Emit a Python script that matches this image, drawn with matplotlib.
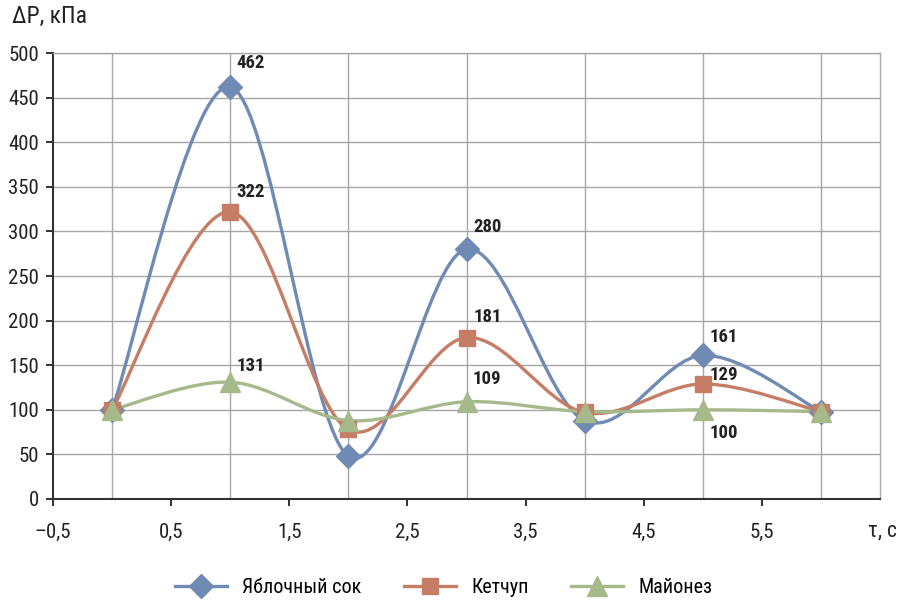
import numpy as np
import matplotlib.pyplot as plt
from matplotlib.path import Path
from matplotlib.patches import PathPatch
from matplotlib import font_manager

# font: condensed look if available
names = set(f.name for f in font_manager.fontManager.ttflist)
fam = 'Liberation Sans'
for f in ['Liberation Sans Narrow', 'Roboto Condensed', 'Open Sans Condensed']:
    if f in names:
        fam = f
        break
plt.rcParams['font.family'] = [fam, 'DejaVu Sans']

tau = [0, 1, 2, 3, 4, 5, 6]
juice = [100, 462, 48, 280, 88, 161, 98]
ketchup = [100, 322, 78, 181, 97, 129, 98]
mayo = [100, 131, 88, 109, 98, 100, 98]
# index -> (text, vertical offset in points)
labels_juice = {1: ('462', 17), 3: ('280', 16), 5: ('161', 13)}
labels_ketchup = {1: ('322', 14), 3: ('181', 15), 5: ('129', 6.5)}
labels_mayo = {1: ('131', 11.5), 3: ('109', 16.5), 5: ('100', -17)}

xticks = [-0.5, 0.5, 1.5, 2.5, 3.5, 4.5, 5.5]
xtick_labels = ['–0,5', '0,5', '1,5', '2,5', '3,5', '4,5', '5,5']

c_blue = '#6f8ab3'
c_orange = '#c67d66'
c_green = '#a6b98a'


def smooth_path(x, y):
    # bezier curve through the points (like excel's smoothed line)
    x = np.asarray(x, float)
    y = np.asarray(y, float)
    n = len(x)
    verts = [(x[0], y[0])]
    codes = [Path.MOVETO]
    for i in range(n - 1):
        i0 = max(i - 1, 0)
        i3 = min(i + 2, n - 1)
        c1 = (x[i] + (x[i + 1] - x[i0]) / 6, y[i] + (y[i + 1] - y[i0]) / 6)
        c2 = (x[i + 1] - (x[i3] - x[i]) / 6, y[i + 1] - (y[i3] - y[i]) / 6)
        verts += [c1, c2, (x[i + 1], y[i + 1])]
        codes += [Path.CURVE4] * 3
    return Path(verts, codes)


fig = plt.figure(figsize=(8.98, 6.03), dpi=100)
ax = fig.add_axes([0.059, 0.1725, 0.921, 0.7395])

series = [
    (juice, c_blue, 'D', 12, 'Яблочный сок', labels_juice),
    (ketchup, c_orange, 's', 11, 'Кетчуп', labels_ketchup),
    (mayo, c_green, '^', 14, 'Майонез', labels_mayo),
]
for vals, col, mk, ms, name, labs in series:
    ax.add_patch(PathPatch(smooth_path(tau, vals), facecolor='none',
                           edgecolor=col, lw=2.4, zorder=3))
    ax.plot(tau, vals, ls='none', marker=mk, ms=ms, color=col, zorder=4)
    # legend handle
    ax.plot([], [], color=col, lw=2.4, marker=mk, ms=ms, label=name)
    for i, (t, dy) in labs.items():
        ax.annotate(t, (tau[i], vals[i]), xytext=(15, dy), textcoords='offset points',
                    fontsize=13.5, fontweight='bold', color='#222222',
                    ha='center', va='center', zorder=5)

ax.set_xlim(-0.5, 6.5)
ax.set_ylim(0, 500)
ax.set_xticks(xticks)
ax.set_xticklabels(xtick_labels)
ax.set_xticks(range(0, 7), minor=True)
ax.set_yticks(range(0, 501, 50))
ax.tick_params(axis='both', labelsize=15, colors='#222222', length=5, width=1.3, direction='out')
ax.tick_params(axis='x', which='minor', length=0)
ax.tick_params(axis='x', pad=12)
ax.tick_params(axis='y', pad=5)

ax.grid(True, axis='y', color='#a6a6a6', lw=1)
ax.grid(True, axis='x', which='minor', color='#a6a6a6', lw=1)
ax.set_axisbelow(True)
for s in ['top', 'right']:
    ax.spines[s].set_color('#a6a6a6')
    ax.spines[s].set_linewidth(1)
for s in ['left', 'bottom']:
    ax.spines[s].set_color('#333333')
    ax.spines[s].set_linewidth(1.5)

fig.text(0.013, 0.972, 'ΔP, кПа', fontsize=17, color='#222222', va='center')
fig.text(0.999, 0.119, 'τ, с', fontsize=15.5, color='#222222', va='center', ha='right')

fig.legend(loc='center', bbox_to_anchor=(0.494, 0.025), ncol=3, frameon=False,
           fontsize=14.5, handlelength=2.6, columnspacing=2.1, handletextpad=0.75)

fig.savefig('out.png', dpi=100)
